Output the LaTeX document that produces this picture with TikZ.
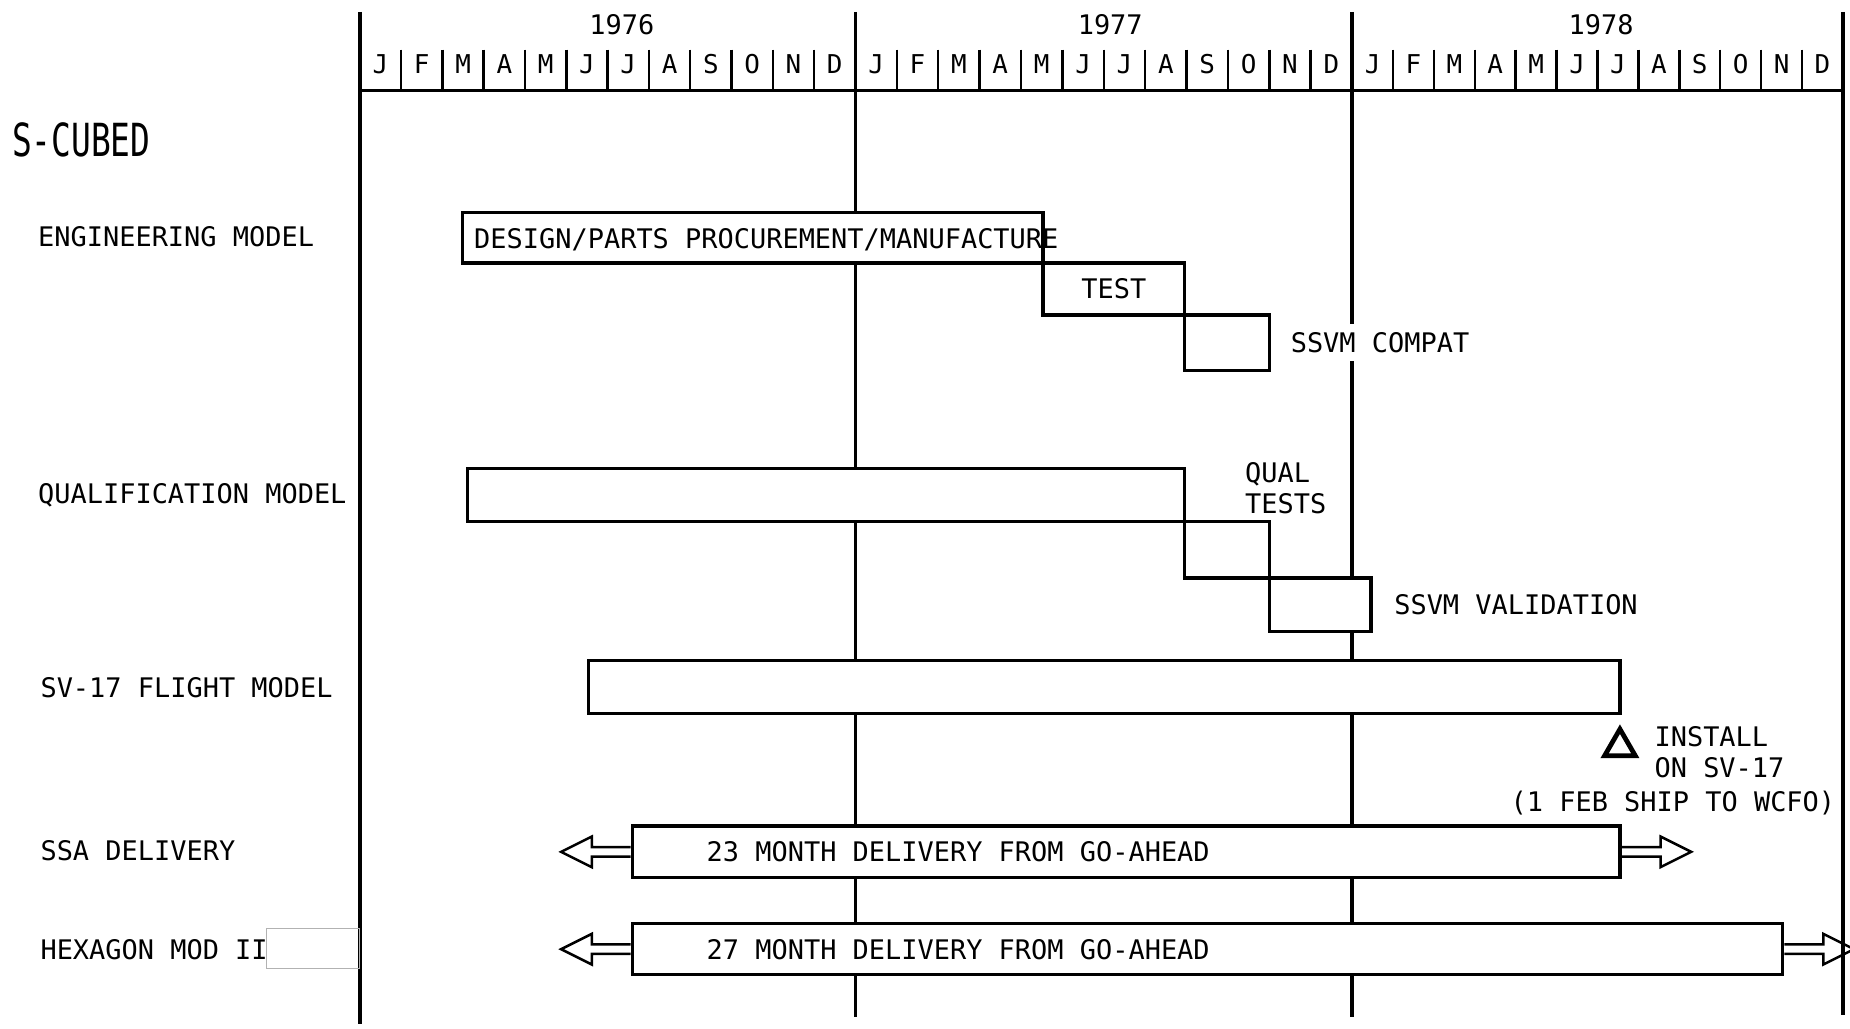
\documentclass[tikz,border=0pt]{standalone}
\usepackage{fontspec}
\newfontfamily\chartfont{DejaVu Sans Mono}
\usetikzlibrary{positioning,fit,shapes.geometric}

\begin{document}
\begin{tikzpicture}[
  x=0.2mm, y=-0.2mm,
  every node/.style={font=\chartfont\fontsize{13}{14.8}\selectfont, inner sep=0pt},
  yearline/.style={line width=1.6pt},
  monthtick/.style={line width=1.2pt},
  bar/.style={draw, line width=1.6pt, fill=white, inner sep=0pt},
  rowlabel/.style={anchor=base west},
  arrowline/.style={line width=1.2pt},
  openarrow/.pic={\draw[arrowline] (0,-4) -- (33,-4) -- (33,-13) -- (59,0)
                  -- (33,13) -- (33,4) -- (0,4);},
]
  \useasboundingbox (0,0) rectangle (1568,872);

  % year grid and month scale
  \draw[yearline] (305,10) -- (305,868);
  \draw[yearline] (725,10) -- (725,862);
  \draw[yearline] (1146,10) -- (1146,862);
  \draw[yearline] (1562,10) -- (1562,860);
  \draw[yearline] (305,77) -- (1562,77);
  \foreach \ys/\ye [count=\yi] in {305/725, 725/1146, 1146/1562} {
    \foreach \k in {1,...,11}
      \draw[monthtick] ({\ys+(\ye-\ys)*\k/12},42) -- ({\ys+(\ye-\ys)*\k/12},77);
    \foreach \m [count=\k] in {J,F,M,A,M,J,J,A,S,O,N,D}
      \node[anchor=base, font=\chartfont\fontsize{12.5}{14}\selectfont] (m\yi-\k)
        at ({\ys+(\ye-\ys)*(\k-0.5)/12},62) {\m};
  }
  \node[anchor=base] (y76) at (527,29) {1976};
  \node[anchor=base] (y77) at (941,29) {1977};
  \node[anchor=base] (y78) at (1357,29) {1978};

  % row titles
  \node[rowlabel, font=\chartfont\fontsize{22}{26}\selectfont, xscale=0.72] (scubed) at (10,133) {S-CUBED};
  \node[rowlabel] (engmodel) at (32,209) {ENGINEERING MODEL};
  \node[rowlabel] (qualmodel) at (32,427) {QUALIFICATION MODEL};
  \node[rowlabel] (flightmodel) at (34,591) {SV-17 FLIGHT MODEL};
  \node[rowlabel] (ssadel) at (34,729) {SSA DELIVERY};
  \node[rowlabel] (hexmod) at (34,813) {HEXAGON MOD II};
  \draw[gray!60, line width=0.5pt] (226,787) rectangle (305,821);

  % engineering model
  \node[bar, fit={(392,180) (884,223)}] (design) {};
  \node[bar, fit={(884,223) (1004,267)}] (test) {};
  \node[bar, fit={(1004,267) (1076,314)}] (compat) {};
  \node[right=2.2mm of design.west, yshift=-0.3mm] (designlbl) {DESIGN/PARTS PROCUREMENT/MANUFACTURE};
  \node (testlbl) at (test) {TEST};
  \node[right=2.9mm of compat, fill=white, inner xsep=1pt, inner ysep=4pt] (compatlbl) {SSVM COMPAT};

  % qualification model
  \node[bar, fit={(396,397) (1004,442)}] (qual) {};
  \node[bar, fit={(1004,442) (1076,490)}] (qualtest) {};
  \node[bar, fit={(1076,490) (1162,535)}] (valid) {};
  \node[anchor=base west, align=left] (qualtestlbl) at (1055,435) {QUAL\\TESTS};
  \node[right=3.6mm of valid] (validlbl) {SSVM VALIDATION};

  % flight model
  \node[bar, fit={(499,560) (1373,605)}] (flight) {};
  \node[draw, regular polygon, regular polygon sides=3, minimum size=6mm,
        line width=2.3pt] (install) at (1373,633) {};
  \node[anchor=base west, align=left] (installlbl) at (1402,659) {INSTALL\\ON SV-17};
  \node[anchor=base west] (shiplbl) at (1280,688) {(1 FEB SHIP TO WCFO)};

  % deliveries
  \node[bar, fit={(536,700) (1373,744)}] (ssa) {};
  \node[right=12.8mm of ssa.west] (ssalbl) {23 MONTH DELIVERY FROM GO-AHEAD};
  \pic[rotate=180] at (ssa.west) {openarrow};
  \pic at (ssa.east) {openarrow};

  \node[bar, fit={(536,783) (1511,826)}] (hex) {};
  \node[right=12.8mm of hex.west] (hexlbl) {27 MONTH DELIVERY FROM GO-AHEAD};
  \pic[rotate=180] at (hex.west) {openarrow};
  \pic at (hex.east) {openarrow};
\end{tikzpicture}
\end{document}
